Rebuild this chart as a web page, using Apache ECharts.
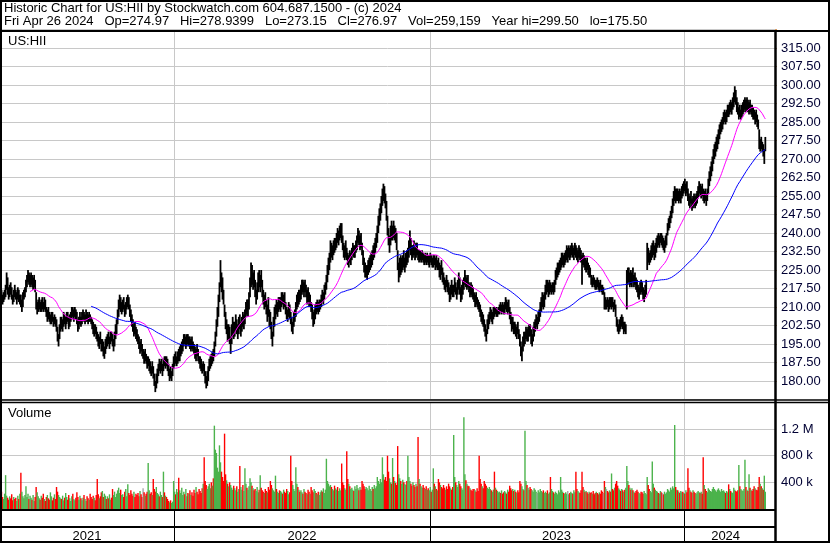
<!DOCTYPE html>
<html>
<head>
<meta charset="utf-8">
<script src="https://cdn.jsdelivr.net/npm/echarts@6/dist/echarts.min.js"></script>
<style>
html, body { margin: 0; padding: 0; background: #fff; }
#chart { width: 830px; height: 543px; }
</style>
</head>
<body>
<div id="chart"></div>
<script>
// daily bars, US:HII, Apr 30 2021 .. Apr 26 2024
const lows = [
212,213,211,212,213, 214,217,215,213,214, 215,213,211,212,214, 213,211,213,212,211, 210,208,210,213,214,
216,218,220,219,218, 219,218,217,218,216, 209,207,208,209,208, 208,209,208,209,208, 206,204,205,204,203,
203,204,202,203,202, 200,196,194,197,200, 201,200,202,203,201, 203,204,201,202,204, 205,206,204,206,205,
203,200,201,203,202, 203,205,204,203,204, 204,203,204,204,203, 201,199,198,199,197, 196,194,193,195,192,
192,190,189,191,193, 194,195,193,195,196, 194,192,194,197,199, 203,206,209,208,207, 208,209,206,207,209,
210,209,206,204,202, 200,198,199,197,196, 195,193,191,192,190, 189,187,188,187,185, 186,184,183,182,183,
181,178,175.5,177,179, 182,184,183,184,182, 184,186,185,186,184, 182,180,181,180,182, 185,186,187,186,187,
188,188,190,191,192, 194,195,193,194,195, 194,193,192,193,192, 191,189,188,190,188, 187,185,184,183,184,
182,179,177,178,180, 184,185,186,187,188, 190,194,198,202,206, 212,218,216,213,211, 206,201,199,196,197,
195,191,195,198,197, 198,200,199,197,199, 201,198,200,202,201, 203,206,207,206,209, 214,218,219,217,218,
214,211,213,216,218, 216,218,214,211,209, 210,207,204,206,202, 201,197,194,198,202, 205,207,206,208,209,
208,210,211,209,210, 207,205,204,206,205, 203,200,199,202,204, 206,209,210,211,212, 213,215,216,214,216,
214,211,212,210,210, 208,205,202,203,205, 207,208,207,208,209, 210,212,211,213,215, 217,220,223,225,228,
230,229,231,232,233, 234,236,235,237,238, 236,233,230,229,230, 229,227,226,228,227, 229,231,230,230,232,
233,236,235,233,234, 231,227,224,222,222, 221,223,224,225,226, 227,229,230,232,234, 236,240,243,245,248,
251,253,252,250,245, 239,235,232,235,237, 237,238,237,236,233, 225,220,222,223,224, 225,226,224,226,227,
228,230,233,231,229, 230,231,229,230,231, 229,228,229,228,229, 228,227,228,227,228, 227,226,228,227,226,
226,227,225,226,225, 225,222,221,223,220, 219,217,216,218,216, 215,212,213,215,214, 214,216,215,213,215,
217,215,212,213,215, 217,219,218,217,218, 216,214,215,214,213, 212,210,211,210,209, 208,206,204,203,202,
200,198,196,199,201, 203,205,204,203,205, 206,207,206,206,207, 207,208,207,208,207, 207,209,208,207,208,
205,203,200,201,199, 199,198,197,199,197, 194,190,188,192,194, 195,197,196,196,198, 198,195,194,196,198,
200,202,201,203,204, 206,208,210,209,210, 213,215,216,214,215, 216,215,216,215,216, 219,221,222,223,224,
225,226,227,226,227, 228,229,228,230,229, 230,231,230,229,231, 230,229,228,230,229, 228,219,227,226,225,
224,225,223,222,222, 219,218,219,218,217, 217,218,217,216,217, 216,215,215,209,209, 209,210,208,209,210,
209,210,208,209,206, 202,200,199,200,201, 202,201,199,200,199, 209,219,220,218,219, 218,220,218,219,217,
216,214,213,215,216, 215,213,212,214,215, 225,228,227,228,229, 230,231,229,230,232, 234,235,234,236,235,
234,233,232,234,235, 239,241,242,244,246, 248,251,253,252,253, 253,252,253,252,254, 255,256,257,255,256,
253,251,250,252,249, 250,251,250,251,252, 254,256,255,254,255, 253,252,253,251,253, 256,259,261,263,265,
268,270,271,273,274, 276,278,280,281,282, 284,285,284,285,287, 287,288,289,288,290, 291,293,292,289,288,
286,287,286,287,288, 289,290,289,290,289, 288,289,288,287,286, 286,284,285,283,282, 274,273,274,273,271,
268,273.15
];
const highs = [
216,217,215,216,217, 219,224,222,218,219, 220,218,215,217,219, 217,216,218,217,215, 215,213,216,217,218,
221,223,225,224,223, 224,223,222,223,221, 216,212,213,214,212, 213,214,212,214,213, 210,209,210,208,207,
208,208,206,207,206, 205,202,199,203,206, 206,205,208,207,206, 208,208,206,207,208, 210,210,209,210,209,
208,205,206,208,206, 208,209,208,207,209, 208,207,208,207,206, 205,204,203,203,202, 200,199,198,200,197,
197,196,194,197,198, 199,200,198,200,200, 199,197,200,203,205, 209,213,215,214,212, 213,214,211,212,214,
215,214,211,209,207, 205,203,204,202,201, 199,198,196,197,195, 193,192,193,191,190, 190,189,188,186,188,
186,183,180,183,185, 187,189,188,189,187, 189,190,190,190,189, 187,185,186,184,187, 190,191,192,190,192,
193,194,195,196,197, 199,199,198,199,199, 198,198,197,198,196, 195,194,193,195,193, 190,190,189,187,188,
187,184,182,184,186, 189,190,191,192,193, 196,200,205,210,215, 220,229,224,222,217, 211,208,205,203,203,
202,198,203,206,204, 204,207,205,203,206, 207,204,206,208,207, 209,212,213,213,216, 222,228,227,224,225,
221,217,220,224,225, 223,225,221,217,215, 216,213,211,214,209, 208,204,200,206,210, 211,213,212,214,214,
214,216,216,215,216, 212,210,209,212,211, 208,206,204,208,209, 212,215,216,217,217, 219,221,221,220,221,
219,217,218,216,215, 212,211,208,209,211, 212,213,212,213,213, 215,217,216,219,220, 223,227,230,232,237,
236,235,237,238,238, 240,242,241,243,244, 244,239,236,235,237, 234,232,231,233,232, 234,236,235,235,237,
239,242,241,239,240, 236,233,230,228,227, 227,229,230,231,232, 233,235,236,238,240, 243,247,250,252,255,
258,260,259,256,253, 247,242,239,243,245, 243,245,243,242,240, 233,228,230,231,230, 231,233,230,232,233,
234,237,241,238,235, 235,237,234,236,236, 233,233,233,232,233, 232,231,232,231,232, 231,231,232,231,230,
231,231,230,231,229, 230,228,227,229,226, 224,222,221,223,221, 220,218,219,221,219, 219,222,220,218,221,
224,222,218,219,221, 222,225,223,222,223, 220,219,220,219,218, 216,215,216,214,213, 212,211,209,208,207,
205,203,201,205,207, 208,210,209,208,210, 210,210,210,209,210, 211,212,211,212,211, 212,214,213,212,213,
210,208,206,206,204, 204,203,202,204,201, 199,196,194,198,200, 200,202,201,202,203, 203,201,199,202,204,
205,207,206,208,209, 212,214,216,215,216, 219,221,221,220,221, 220,219,220,220,221, 225,226,228,228,229,
230,232,232,231,232, 233,235,234,235,234, 235,236,235,234,236, 235,234,233,235,234, 233,231,232,231,230,
229,230,228,227,226, 223,222,223,222,221, 221,222,221,220,221, 219,219,218,216,214, 213,214,213,214,214,
214,214,212,213,211, 206,205,203,205,206, 207,206,204,204,203, 225,226,226,224,225, 224,226,223,224,222,
221,219,218,220,221, 220,218,217,219,221, 236,234,232,233,235, 236,237,235,236,238, 239,240,239,240,240,
239,238,237,239,240, 244,246,247,249,251, 254,257,259,258,258, 258,257,258,257,259, 260,261,262,260,261,
258,256,255,257,254, 255,256,255,256,257, 259,261,260,259,260, 258,257,258,256,258, 262,265,267,269,271,
274,276,277,279,280, 282,284,285,286,287, 289,290,289,290,292, 292,293,294,293,295, 297,299.5,298,295,293,
291,292,290,292,293, 294,295,294,295,294, 293,294,292,292,291, 290,289,290,288,286, 282,278,279,277,276,
274,278.94
];
const closes = [
215,214,212,215,216, 218,221,216,215,218, 217,214,213,216,215, 214,215,217,213,214, 211,212,215,216,217,
220,222,224,221,222, 223,219,220,221,217, 210,211,212,213,209, 212,211,210,213,209, 207,208,206,205,206,
207,205,203,206,204, 201,197,198,202,204, 202,204,206,204,205, 207,205,202,206,207, 209,207,208,209,206,
204,201,205,207,203, 207,208,205,206,208, 206,205,207,205,204, 202,200,201,200,198, 197,195,197,196,193,
195,191,193,196,194, 198,196,197,199,197, 195,196,199,202,204, 208,211,213,210,211, 212,210,207,211,213,
214,210,207,205,203, 201,202,200,198,197, 196,194,195,193,191, 191,188,192,188,186, 187,188,184,183,186,
182,179,177,182,184, 186,185,187,188,183, 188,187,189,186,185, 183,184,182,183,186, 189,190,188,189,191,
189,193,194,195,196, 197,196,197,198,196, 197,195,196,194,193, 192,190,192,191,189, 188,186,185,184,186,
183,180,178,183,185, 187,189,188,191,190, 195,199,204,208,213, 218,222,220,214,212, 207,203,204,198,201,
196,197,201,204,199, 203,205,200,202,205, 202,203,205,204,206, 208,211,209,212,215, 221,225,221,222,219,
215,216,219,222,220, 222,219,215,213,214, 211,208,210,207,205, 202,198,199,205,208, 210,209,211,212,210,
213,214,212,214,211, 208,206,208,210,206, 204,201,203,207,208, 211,214,212,216,214, 218,219,217,219,218,
215,216,214,211,213, 209,206,204,208,210, 209,212,208,211,212, 214,213,215,218,219, 222,226,228,231,235,
232,234,236,235,237, 239,238,240,241,242, 237,234,232,233,235, 230,228,230,229,231, 233,234,231,234,236,
238,240,237,238,235, 232,228,226,223,225, 226,227,228,229,230, 232,231,235,237,239, 242,246,248,251,254,
256,258,254,252,247, 240,237,238,242,239, 242,240,241,238,234, 226,227,229,225,229, 230,228,229,231,230,
233,236,238,233,231, 234,233,232,235,232, 231,232,230,231,232, 230,229,231,228,230, 229,230,231,228,229,
230,228,229,227,228, 226,223,226,224,222, 220,218,220,219,217, 216,213,218,217,215, 218,219,216,217,220,
222,216,213,218,219, 221,223,219,220,219, 217,218,216,215,214, 213,214,212,211,210, 209,207,205,206,203,
201,200,199,204,205, 207,208,205,207,209, 208,209,207,208,209, 210,209,211,210,208, 211,212,209,210,209,
206,204,201,205,200, 203,199,201,200,198, 195,191,193,197,196, 199,201,197,200,202, 199,196,198,201,203,
204,205,205,207,208, 211,213,214,213,215, 218,220,217,219,220, 217,218,219,216,220, 224,225,226,227,228,
229,230,231,228,231, 232,233,233,234,230, 234,235,232,233,234, 233,230,232,234,231, 230,229,228,230,226,
228,226,224,225,223, 220,221,220,219,218, 220,219,218,219,218, 217,216,216,210,212, 212,211,209,213,212,
213,211,210,212,207, 203,201,202,204,202, 205,202,203,201,202, 222,224,221,223,220, 223,221,222,220,218,
217,215,217,219,218, 216,214,216,218,220, 233,230,229,232,233, 234,235,231,234,236, 238,236,238,239,237,
237,234,236,238,239, 243,245,246,248,250, 253,256,257,254,257, 255,256,254,256,258, 257,260,258,259,257,
254,252,254,253,250, 254,253,252,255,256, 258,259,257,258,256, 254,256,255,252,257, 261,263,265,268,270,
273,275,276,277,279, 281,283,284,285,286, 288,289,286,289,291, 290,292,291,292,294, 296,297,293,291,289,
290,288,289,291,292, 293,294,291,293,290, 292,290,291,289,288, 287,288,286,284,283, 275,277,275,276,272,
273,276.97
];
// daily volume, thousands of shares
const volumes = [
210,260,180,150,230, 508,200,170,140,190, 160,220,130,180,150, 170,120,200,150,230, 544,260,190,160,210,
340,180,230,150,200, 170,140,210,120,180, 330,250,190,160,140, 200,170,230,150,120, 180,210,160,140,250,
190,130,170,220,150, 330,260,210,180,160, 150,200,130,170,240, 180,140,210,160,120, 190,230,150,130,170,
250,180,140,200,160, 130,170,210,150,120, 190,160,140,230,180, 150,200,170,130,210, 450,220,160,190,250,
270,180,230,200,150, 190,160,220,140,170, 300,210,260,180,230, 280,320,240,290,210, 220,180,260,300,190,
370,240,210,280,230, 200,260,180,230,210, 240,190,270,220,180, 310,250,200,230,260, 690,280,230,250,210,
450,300,260,330,240, 220,190,260,210,180, 560,250,200,180,150, 120,100,130,90,110, 420,260,220,300,250,
470,280,240,320,210, 260,220,300,190,240, 230,280,210,250,200, 290,240,330,260,220, 300,270,240,310,380,
775,420,360,300,340, 380,310,400,350,460, 1250,890,840,620,560, 955,700,560,480,420, 1130,520,430,380,340,
400,360,320,290,350, 310,280,340,260,300, 645,330,290,360,270, 610,380,320,290,340, 460,400,350,310,280,
300,270,330,250,290, 508,320,280,260,240, 300,270,250,330,290, 420,360,310,280,260, 500,300,260,240,280,
270,250,230,290,260, 240,300,270,220,250, 800,420,360,300,270, 625,380,330,290,260, 280,250,230,300,260,
240,220,290,260,230, 330,280,250,300,270, 240,220,260,210,250, 280,260,310,240,290, 754,420,380,340,360,
330,300,280,350,310, 290,330,270,310,280, 682,400,360,310,290, 867,450,380,340,300, 320,290,270,340,300,
360,310,280,330,290, 420,380,340,300,330, 310,280,350,300,270, 330,300,360,310,340, 480,420,380,450,400,
775,520,440,480,420, 800,560,460,400,380, 765,480,420,390,360, 944,520,460,420,380, 440,400,380,360,420,
800,480,420,380,350, 400,360,330,380,340, 1080,450,380,340,320, 360,320,300,340,290, 310,280,330,260,290,
610,380,340,300,280, 450,400,360,330,310, 360,320,290,340,300, 380,340,310,290,330, 1110,480,400,360,330,
420,380,340,310,290, 1375,520,430,380,350, 340,310,290,270,300, 300,280,260,310,270, 800,450,380,340,310,
420,380,350,320,300, 330,300,280,260,290, 560,320,290,270,250, 260,240,280,230,250, 270,250,230,290,260,
350,310,280,300,270, 290,260,240,280,250, 420,380,340,300,280, 1175,420,360,320,290, 330,300,280,260,310,
290,260,240,280,250, 300,270,250,280,240, 260,240,280,230,250, 480,300,270,250,230, 260,240,220,280,250,
480,290,260,240,230, 250,230,270,220,240, 260,240,230,280,250, 560,300,270,250,240, 280,560,330,290,260,
270,250,230,260,240, 250,230,270,220,240, 260,240,220,250,230, 280,260,240,420,330, 300,270,250,280,260,
533,300,280,320,380, 420,350,310,290,270, 300,280,260,290,320, 646,420,360,320,290, 310,280,260,240,270,
290,260,240,230,260, 250,230,270,240,220, 480,360,300,270,250, 713,380,320,290,270, 260,240,230,270,250,
240,220,260,230,250, 300,280,260,320,290, 340,310,1260,330,290, 280,260,240,270,250, 260,240,230,280,250,
610,320,280,260,240, 280,260,240,230,250, 270,250,240,260,230, 775,360,300,270,250, 310,290,270,260,300,
330,300,280,260,290, 310,280,260,300,270, 280,260,240,270,250, 370,300,270,250,240, 320,290,270,260,280,
660,340,300,280,270, 300,740,330,290,270, 520,320,290,270,300, 340,310,290,280,330, 480,380,340,310,290,
500,259
];
const holidays = [
  '2021-05-31', '2021-07-05', '2021-09-06', '2021-11-25', '2021-12-24',
  '2022-01-17', '2022-02-21', '2022-04-15', '2022-05-30', '2022-06-20', '2022-07-04', '2022-09-05', '2022-11-24', '2022-12-26',
  '2023-01-02', '2023-01-16', '2023-02-20', '2023-04-07', '2023-05-29', '2023-06-19', '2023-07-04', '2023-09-04', '2023-11-23', '2023-12-25',
  '2024-01-01', '2024-01-15', '2024-02-19', '2024-03-29'
];
const priceTicks = [180, 187.5, 195, 202.5, 210, 217.5, 225, 232.5, 240, 247.5, 255, 262.5, 270, 277.5, 285, 292.5, 300, 307.5, 315];
const volumeTicks = { 400000: '400 k', 800000: '800 k', 1200000: '1.2 M' };

// trading days
function tradingDays(start, end) {
  const out = [];
  const d = new Date(start + 'T00:00:00Z');
  const e = new Date(end + 'T00:00:00Z');
  while (d <= e) {
    const wd = d.getUTCDay();
    const s = d.toISOString().slice(0, 10);
    if (wd !== 0 && wd !== 6 && holidays.indexOf(s) < 0) out.push(s);
    d.setUTCDate(d.getUTCDate() + 1);
  }
  return out;
}
const dates = tradingDays('2021-04-30', '2024-04-26');
const categories = dates.slice();
for (let i = 0; i < 8; i++) categories.push('pad' + i);

const yearStarts = [];
const yearMids = [];
let segStart = 0;
for (let i = 1; i <= dates.length; i++) {
  if (i === dates.length || dates[i].slice(0, 4) !== dates[i - 1].slice(0, 4)) {
    yearMids.push(Math.floor((segStart + i - 1) / 2));
    if (i < dates.length) yearStarts.push(i);
    segStart = i;
  }
}

function sma(arr, n) {
  return arr.map(function (v, i) {
    if (i < n - 1) return '-';
    let s = 0;
    for (let k = i - n + 1; k <= i; k++) s += arr[k];
    return +(s / n).toFixed(2);
  });
}

const barData = lows.map(function (l, i) { return [i, l, highs[i]]; });
const volData = volumes.map(function (v, i) {
  let c = '#4cb34c';
  if (i > 0 && closes[i] < closes[i - 1]) c = '#ff0000';
  else if (i > 0 && closes[i] === closes[i - 1]) c = '#a8a8a8';
  return { value: v * 1000, itemStyle: { color: c } };
});

const font = 'Liberation Sans, Arial, sans-serif';
const gridGray = '#c8c8c8';

function xAxisFor(gi) {
  return {
    type: 'category', gridIndex: gi, data: categories, boundaryGap: true,
    axisLine: { show: false }, axisTick: { show: false }, axisLabel: { show: false },
    splitLine: { show: true, interval: function (i) { return yearStarts.indexOf(i) >= 0; }, lineStyle: { color: gridGray } }
  };
}

const myChart = echarts.init(document.getElementById('chart'), null, { renderer: 'canvas' });
myChart.setOption({
  backgroundColor: '#fff',
  animation: false,
  grid: [
    { left: 0, top: 29.5, width: 775, height: 370 },
    { left: 0, top: 402, width: 775, height: 107 },
    { left: 0, top: 510, width: 775, height: 17 }
  ],
  xAxis: [
    xAxisFor(0),
    xAxisFor(1),
    {
      type: 'category', gridIndex: 2, data: categories, boundaryGap: true, position: 'bottom',
      axisLine: { show: false },
      axisTick: { show: true, length: 16, interval: function (i) { return yearStarts.indexOf(i) >= 0; }, lineStyle: { color: '#000' } },
      axisLabel: {
        show: true, interval: function (i) { return yearMids.indexOf(i) >= 0; },
        formatter: function (v) { return v.slice(0, 4); },
        fontSize: 13, fontFamily: font, color: '#000', margin: 3
      },
      splitLine: { show: true, interval: function (i) { return yearStarts.indexOf(i) >= 0; }, lineStyle: { color: '#000' } }
    }
  ],
  yAxis: [
    {
      type: 'value', gridIndex: 0, position: 'right', min: 172.5, max: 322.5, interval: 7.5,
      axisLine: { show: false },
      axisTick: { show: true, length: 2, lineStyle: { color: '#d89a60' } },
      axisLabel: {
        margin: 6, fontSize: 13, fontFamily: font, color: '#000033',
        formatter: function (v) { return priceTicks.indexOf(v) >= 0 ? v.toFixed(2) : ''; }
      },
      splitLine: { lineStyle: { color: gridGray } }
    },
    {
      type: 'value', gridIndex: 1, position: 'right', min: 0, max: 1605000, interval: 400000,
      axisLine: { show: false }, axisTick: { show: false },
      axisLabel: {
        margin: 6, fontSize: 13, fontFamily: font, color: '#000033',
        formatter: function (v) { return volumeTicks[v] || ''; }
      },
      splitLine: { lineStyle: { color: ['rgba(0,0,0,0)', gridGray, gridGray, gridGray, 'rgba(0,0,0,0)'] } }
    },
    { type: 'value', gridIndex: 2, show: false }
  ],
  series: [
    {
      name: 'US:HII', type: 'custom', xAxisIndex: 0, yAxisIndex: 0,
      encode: { x: 0, y: [1, 2] },
      data: barData,
      renderItem: function (params, api) {
        const i = api.value(0);
        const top = api.coord([i, api.value(2)]);
        const bot = api.coord([i, api.value(1)]);
        return {
          type: 'rect',
          shape: { x: top[0] - 0.9, y: top[1], width: 1.8, height: Math.max(1, bot[1] - top[1]) },
          style: { fill: '#000' }
        };
      },
      z: 2
    },
    {
      name: 'MA30', type: 'line', xAxisIndex: 0, yAxisIndex: 0, data: sma(closes, 30),
      showSymbol: false, lineStyle: { color: '#ff00ff', width: 1 }, z: 3
    },
    {
      name: 'MA90', type: 'line', xAxisIndex: 0, yAxisIndex: 0, data: sma(closes, 90),
      showSymbol: false, lineStyle: { color: '#0000ff', width: 1 }, z: 3
    },
    {
      name: 'Volume', type: 'bar', xAxisIndex: 1, yAxisIndex: 1, data: volData,
      barWidth: 1.4, barGap: '0%'
    }
  ],
  graphic: [
    { type: 'text', left: 4, top: 2, style: { text: 'Historic Chart for US:HII by Stockwatch.com 604.687.1500 - (c) 2024', fontSize: 13, fontFamily: font, fill: '#000' }, z: 100 },
    { type: 'text', left: 4, top: 15, style: { text: 'Fri Apr 26 2024   Op=274.97   Hi=278.9399   Lo=273.15   Cl=276.97   Vol=259,159   Year hi=299.50   lo=175.50', fontSize: 13, fontFamily: font, fill: '#000' }, z: 100 },
    { type: 'text', left: 8, top: 35, style: { text: 'US:HII', fontSize: 13, fontFamily: font, fill: '#000' }, z: 100 },
    { type: 'text', left: 8, top: 407, style: { text: 'Volume', fontSize: 13, fontFamily: font, fill: '#000' }, z: 100 },
    { type: 'line', shape: { x1: 0, y1: 31, x2: 830, y2: 31 }, style: { stroke: '#000', lineWidth: 2 }, z: 100 },
    { type: 'line', shape: { x1: 0, y1: 400, x2: 830, y2: 400 }, style: { stroke: '#000', lineWidth: 1.5 }, z: 100 },
    { type: 'line', shape: { x1: 0, y1: 402.5, x2: 830, y2: 402.5 }, style: { stroke: '#000', lineWidth: 1.5 }, z: 100 },
    { type: 'line', shape: { x1: 0, y1: 510, x2: 775, y2: 510 }, style: { stroke: '#000', lineWidth: 2 }, z: 100 },
    { type: 'line', shape: { x1: 0, y1: 527, x2: 775, y2: 527 }, style: { stroke: '#000', lineWidth: 2 }, z: 100 },
    { type: 'line', shape: { x1: 775.5, y1: 31, x2: 775.5, y2: 543 }, style: { stroke: '#000', lineWidth: 2.5 }, z: 100 },
    { type: 'rect', shape: { x: 1, y: 1, width: 828, height: 541 }, style: { fill: 'none', stroke: '#000', lineWidth: 2 }, z: 100 }
  ]
});
</script>
</body>
</html>
